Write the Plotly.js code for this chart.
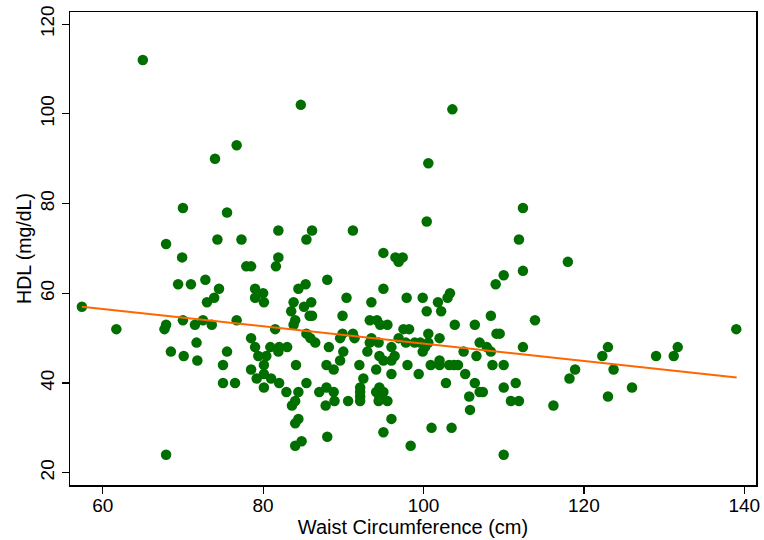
<!DOCTYPE html>
<html>
<head>
<meta charset="utf-8">
<script src="https://cdn.plot.ly/plotly-3.0.1.min.js"></script>
<style>html,body{margin:0;padding:0;background:#fff;}#chart{width:764px;height:540px;}</style>
</head>
<body>
<div id="chart"></div>
<script>
// Waist circumference (cm)
const waist = [
65,84.7,103.6,76.7,74,100.6,70,112.4,75.5,100.4,
81.9,86.1,91.2,67.9,74.3,77.3,85.4,111.9,95,96.5,
97.4,96.9,69.9,81.9,77.9,78.5,81.6,118,112.4,110,
109,88,69.4,71,72.8,74.5,73.9,73,79,80,
79,80.1,84.4,85.3,83.8,85.1,83.5,84,83.8,57.4,
61.7,67.9,67.7,70,71.5,72.5,73.6,76.7,81.5,85.4,
85.8,71.7,68.5,70.1,71.8,75.5,75,75,76.5,78.5,
79,79.4,80.4,80.9,82,83,81.9,80.1,78.5,79.2,
81,80.1,80.1,82,84.1,85.4,82.9,84.4,84,83.6,
84.4,84,84.8,84,67.9,95,90.4,93.5,97.9,99.9,
103.3,103,101.8,86,100.4,102.2,86.1,89.9,108.4,113.9,
93.3,94.2,94.6,95.5,103.9,106.4,97.5,98.2,100.6,109.1,
109.5,85.9,86.5,89.9,91.2,89.6,91.4,93.5,93.3,94.4,
96.9,97.8,98.9,99.6,100.2,99.9,102,100.6,107,107.9,
105,106.6,108.4,112.4,88.2,90,93,96,94.5,95,
96.4,96,89.6,87.9,88.8,92,94.1,98,100.9,102,
102,103.2,103.8,104.3,108.6,110,99.4,96,105.2,92.5,
102.8,106.4,111.5,110,87.9,87,88.8,92.1,92.1,92.1,
92.1,94.5,94.1,95,94.5,94.4,95.5,90.6,88.9,87.8,
107,107.4,105.7,105.8,110.9,111.9,96,95,101,103.5,
88,98.4,110,139,123,131.7,122.3,129,131.2,118.9,
123.7,118.2,126,123,116.2
];
// HDL (mg/dL)
const hdl = [
112,102,101,93,90,89,79,79,78,76,
74,74,74,71,72,72,72,72,69,68,
68,67,68,68,66,66,66,67,65,64,
62,63,62,62,63,61,59,58,61,60,
59,58,61,62,58,57,56,54,53,57,
52,53,52,54,53,54,53,54,52,51,
55,49,47,46,45,47,44,40,40,50,
48,46,46,48,48,48,47,44,43,41,
41,39,42,40,44,40,38,38,36,35,
32,31,27,26,24,61,59,58,59,59,
60,59,58,58,56,56,55,55,55,54,
54,54,53,53,53,53,52,52,51,51,
51,50,49,51,51,50,50,50,49,49,
50,49,49,49,48,47,50,49,49,48,
47,46,47,48,48,47,47,48,46,45,
46,45,45,44,43,44,43,44,44,45,
44,44,44,44,44,44,42,42,42,41,
40,40,40,39,39,38,38,39,38,37,
36,39,38,38,37,36,36,36,36,35,
38,38,37,34,36,36,32,29,30,30,
28,26,24,52,48,48,46,46,46,43,
43,41,39,37,35
];
// Fitted line end points
const fitX = [57.4, 139.05];
const fitY = [57.0, 41.2];

const xTicks = [60, 80, 100, 120, 140];
const yTicks = [20, 40, 60, 80, 100, 120];

const font = "Liberation Sans, Arial, Helvetica, sans-serif";

const traces = [
  {x: waist, y: hdl, type: 'scatter', mode: 'markers',
   marker: {color: '#006f00', size: 10.5, line: {width: 0}}, hoverinfo: 'none'},
  {x: fitX, y: fitY, type: 'scatter', mode: 'lines',
   line: {color: '#ff6600', width: 2}, hoverinfo: 'none'}
];

const layout = {
  width: 764, height: 540,
  margin: {l: 70, r: 8, t: 12, b: 55},
  paper_bgcolor: '#fff', plot_bgcolor: '#fff',
  showlegend: false,
  font: {family: font, color: '#000', size: 16},
  xaxis: {
    range: [55.92, 141.46], tickvals: xTicks, ticktext: xTicks.map(String),
    showgrid: false, zeroline: false, showline: true, mirror: true,
    linecolor: '#000', linewidth: 1.5, ticks: 'outside', ticklen: 7, tickwidth: 1.2, tickcolor: '#000',
    ticklabelstandoff: -4,
    tickfont: {size: 19, family: font},
    title: {text: 'Waist Circumference (cm)', font: {size: 20, family: font}, standoff: 0}
  },
  yaxis: {
    range: [17.26, 122.7], tickvals: yTicks, ticktext: yTicks.map(String),
    showgrid: false, zeroline: false, showline: true, mirror: true,
    linecolor: '#000', linewidth: 1.5, ticks: 'outside', ticklen: 7, tickwidth: 1.2, tickcolor: '#000',
    tickangle: -90,
    tickfont: {size: 19, family: font},
    title: {text: 'HDL (mg/dL)', font: {size: 19.5, family: font}, standoff: 0}
  }
};

Plotly.newPlot('chart', traces, layout, {displayModeBar: false, staticPlot: true});
</script>
</body>
</html>
